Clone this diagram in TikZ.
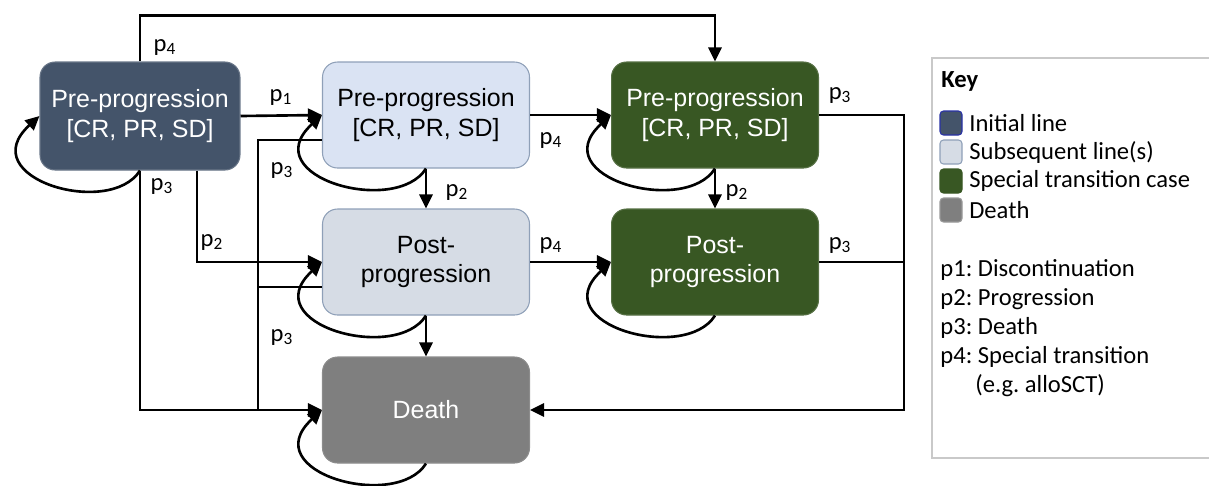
\documentclass[tikz,border=0pt]{standalone}
\usepackage{fontspec}
\setmainfont{Liberation Sans}
\newfontfamily\keyfont{Carlito}
\usetikzlibrary{arrows.meta, positioning, calc}
\frenchspacing

\definecolor{initblue}{HTML}{44546A}
\definecolor{subpre}{HTML}{DAE3F3}
\definecolor{subpost}{HTML}{D6DCE5}
\definecolor{subedge}{HTML}{8FA0B8}
\definecolor{specgreen}{HTML}{385723}
\definecolor{deathgray}{HTML}{7F7F7F}
\definecolor{keyedge}{HTML}{C9C9C9}

\begin{document}
\begin{tikzpicture}[
    x=0.02cm, y=-0.02cm,
    % Styles
    state node/.style={rectangle, rounded corners=0.3cm, align=center, font=\fontsize{14.2}{17}\selectfont, minimum width=4.14cm, minimum height=2.12cm, line width=0.6pt},
    init node/.style={state node, fill=initblue, draw=initblue!80!white, text=white, minimum width=4cm, minimum height=2.16cm},
    sub pre node/.style={state node, fill=subpre, draw=subedge},
    sub post node/.style={state node, fill=subpost, draw=subedge},
    spec node/.style={state node, fill=specgreen, draw=specgreen!85!white, text=white},
    death node/.style={state node, fill=deathgray, draw=deathgray!90!white, text=white},
    arrow/.style={-{Triangle[length=8pt,width=7.5pt]}, line width=1.5pt},
    plain line/.style={line width=1.5pt},
    prob label/.style={font=\keyfont\fontsize{14}{16}\selectfont, inner sep=1pt},
    key swatch/.style={rectangle, rounded corners=2pt, minimum width=0.44cm, minimum height=0.48cm, line width=0.6pt},
    key text/.style={font=\keyfont\fontsize{14}{16}\selectfont, anchor=west, inner sep=0pt}
]
\useasboundingbox (0,0) rectangle (1209,485);

% States
\node[init node] (init) at (140,116) {Pre-progression\\{}[CR, PR, SD]};
\node[sub pre node] (sub1) at (426,115) {Pre-progression\\{}[CR, PR, SD]};
\node[sub post node] (sub2) at (426,262) {Post-\\progression};
\node[spec node] (spec1) at (715,115) {Pre-progression\\{}[CR, PR, SD]};
\node[spec node] (spec2) at (715,262) {Post-\\progression};
\node[death node] (death) at (426,410) {Death};

% Connections
\draw[arrow] (init.north) -- ++(0,-46) -| (spec1.north);
\draw[arrow] (init.east) -- (sub1.west);
\draw[arrow] (init.south) |- (death.west);
\draw[arrow] ([xshift=1.14cm]init.south) |- (sub2.west);

\coordinate (bus) at (258,410);
\draw[plain line] ([yshift=-0.5cm]sub1.west) -| (bus);
\draw[plain line] ([yshift=-0.5cm]sub2.west) -- ++(-65,0);

\draw[arrow] (sub1.south) -- (sub2.north);
\draw[arrow] (sub2.south) -- (death.north);
\draw[arrow] (sub1.east) -- (spec1.west);
\draw[arrow] (sub2.east) -- (spec2.west);
\draw[arrow] (spec1.south) -- (spec2.north);

\draw[arrow] (spec1.east) -- ++(85,0) |- (death.east);
\draw[plain line] (spec2.east) -- ++(85,0);

% Self loops
\draw[arrow] (init.south) .. controls +(-30,48) and +(-68,62) .. (init.west);
\draw[arrow] (sub1.south) .. controls +(-30,48) and +(-68,62) .. (sub1.west);
\draw[arrow] (sub2.south) .. controls +(-30,48) and +(-68,62) .. (sub2.west);
\draw[arrow] (spec1.south) .. controls +(-30,48) and +(-68,62) .. (spec1.west);
\draw[arrow] (spec2.south) .. controls +(-30,48) and +(-68,62) .. (spec2.west);
\draw[arrow] (death.south) .. controls +(-30,48) and +(-68,62) .. (death.west);

% Transition labels
\node[prob label] (l1) at (165,47) {p\textsubscript{4}};
\node[prob label] (l2) at (281,97) {p\textsubscript{1}};
\node[prob label] (l3) at (162,186) {p\textsubscript{3}};
\node[prob label] (l4) at (212,242) {p\textsubscript{2}};
\node[prob label] (l5) at (282,170) {p\textsubscript{3}};
\node[prob label] (l6) at (282,337) {p\textsubscript{3}};
\node[prob label] (l7) at (457,192) {p\textsubscript{2}};
\node[prob label] (l8) at (551,140) {p\textsubscript{4}};
\node[prob label] (l9) at (551,245) {p\textsubscript{4}};
\node[prob label] (l10) at (737,192) {p\textsubscript{2}};
\node[prob label] (l11) at (840,95) {p\textsubscript{3}};
\node[prob label] (l12) at (840,245) {p\textsubscript{3}};

% Key
\draw[keyedge, line width=0.6pt] (932,58) rectangle (1215,458);
\node[key text, font=\keyfont\bfseries\fontsize{14}{16}\selectfont] (keytitle) at (941,81) {Key};
\node[key swatch, fill=initblue, draw=initblue!60!blue] (swinit) at (951,123) {};
\node[key text] (txinit) at (969,123) {Initial line};
\node[key swatch, fill=subpost, draw=subedge] (swsub) at (951,152) {};
\node[key text] (txsub) at (969,152) {Subsequent line(s)};
\node[key swatch, fill=specgreen, draw=specgreen] (swspec) at (951,181) {};
\node[key text] (txspec) at (969,181) {Special transition case};
\node[key swatch, fill=deathgray, draw=deathgray!80!white] (swdeath) at (951,210) {};
\node[key text] (txdeath) at (969,210) {Death};

\node[key text] (kp1) at (940,270) {p1: Discontinuation};
\node[key text] (kp2) at (940,299) {p2: Progression};
\node[key text] (kp3) at (940,328) {p3: Death};
\node[key text] (kp4) at (940,357) {p4: Special transition};
\node[key text] (kp4b) at (975,386) {(e.g. alloSCT)};

\end{tikzpicture}
\end{document}
